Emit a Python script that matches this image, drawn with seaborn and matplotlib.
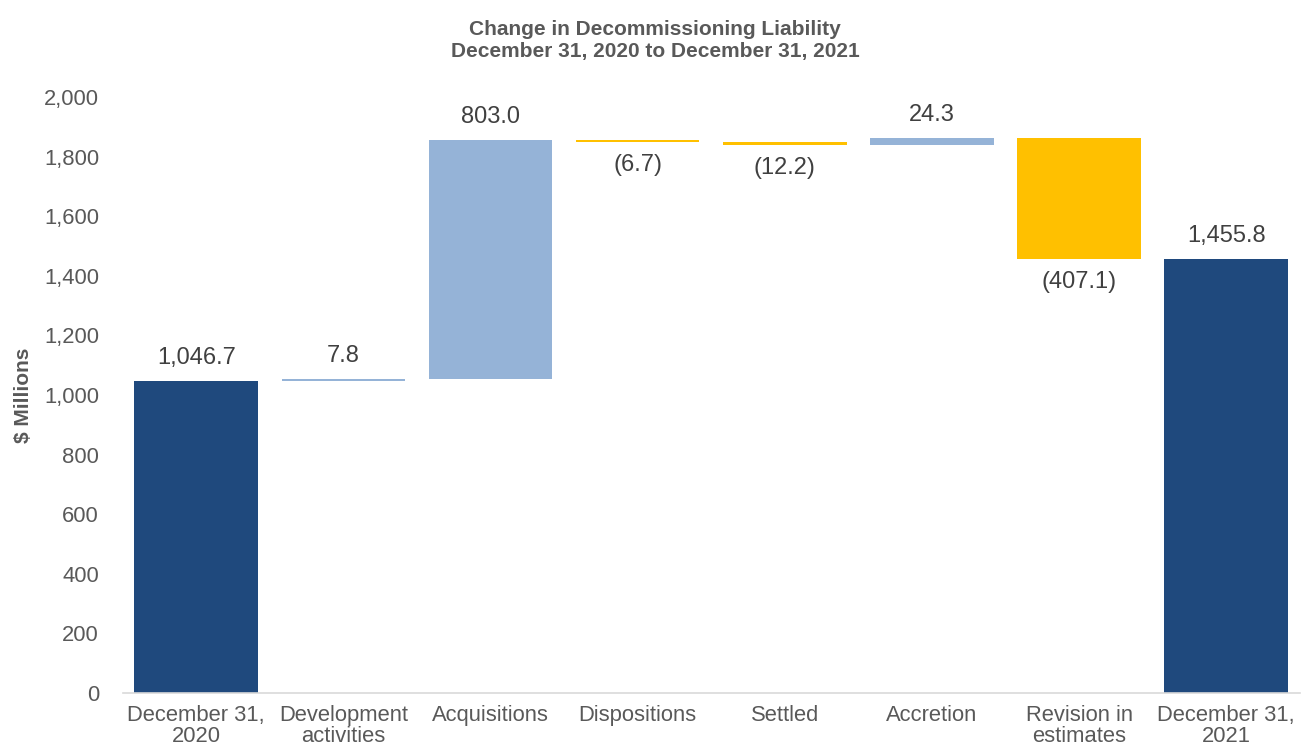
import matplotlib
matplotlib.use("Agg")
import matplotlib.pyplot as plt
import numpy as np
import pandas as pd
import seaborn as sns

# dane wykresu
categories = ["December 31,\n2020", "Development\nactivities", "Acquisitions", "Dispositions",
              "Settled", "Accretion", "Revision in\nestimates", "December 31,\n2021"]
changes = [1046.7, 7.8, 803.0, -6.7, -12.2, 24.3, -407.1, 1455.8]
is_total = [True, False, False, False, False, False, False, True]
labels = ["1,046.7", "7.8", "803.0", "(6.7)", "(12.2)", "24.3", "(407.1)", "1,455.8"]

dark_blue = "#1F497D"
light_blue = "#95B3D7"
yellow = "#FFC000"
grey_txt = "#595959"

# policz podstawy i wysokości słupków (wodospad)
bottoms = []
heights = []
running = 0.0
for val, tot in zip(changes, is_total):
    if tot:
        bottoms.append(0.0)
        heights.append(val)
        running = val
    else:
        if val >= 0:
            bottoms.append(running)
            heights.append(val)
        else:
            bottoms.append(running + val)
            heights.append(-val)
        running += val

colors = [dark_blue if t else (light_blue if v >= 0 else yellow) for v, t in zip(changes, is_total)]

df = pd.DataFrame({"cat": categories, "h": heights, "b": bottoms})

sns.set_theme(style="white")
plt.rcParams["font.family"] = ["Liberation Sans", "DejaVu Sans"]

fig = plt.figure(figsize=(13.05, 7.53), dpi=100)
ax = fig.add_axes([0.094, 0.0797, 0.902, 0.7913])

sns.barplot(data=df, x="cat", y="h", order=categories, bottom=df["b"].values,
            color=light_blue, width=0.84, ax=ax, saturation=1)
for patch, c in zip(ax.patches, colors):
    patch.set_facecolor(c)
    patch.set_edgecolor("none")

ax.set_ylim(0, 2000)
ax.set_xlim(-0.5, len(categories) - 0.5)
ax.set_yticks(np.arange(0, 2001, 200))
ax.set_yticklabels([f"{v:,}" for v in range(0, 2001, 200)])
ax.tick_params(axis="both", colors=grey_txt, labelsize=15.8, length=0)
ax.tick_params(axis="y", pad=17)
ax.tick_params(axis="x", pad=9)
for t in ax.get_xticklabels():
    t.set_linespacing(1.0)

for s in ["top", "right", "left"]:
    ax.spines[s].set_visible(False)
ax.spines["bottom"].set_color("#D9D9D9")
ax.spines["bottom"].set_linewidth(1.2)

ax.set_xlabel("")
ax.set_ylabel("$ Millions", fontsize=15, fontweight="bold", color=grey_txt)
ax.yaxis.set_label_coords(-0.076, 0.5)

# etykiety wartości
for i, (val, tot) in enumerate(zip(changes, is_total)):
    top = bottoms[i] + heights[i]
    if tot or val >= 0:
        ax.text(i, top + 40, labels[i], ha="center", va="bottom", fontsize=17, color="#404040")
    else:
        ax.text(i, bottoms[i] - 40, labels[i], ha="center", va="top", fontsize=17, color="#404040")

fig.suptitle("Change in Decommissioning Liability\nDecember 31, 2020 to December 31, 2021",
             x=0.502, y=0.974, fontsize=15, fontweight="bold", color=grey_txt, linespacing=1.2)

fig.savefig("out.png", dpi=100)
